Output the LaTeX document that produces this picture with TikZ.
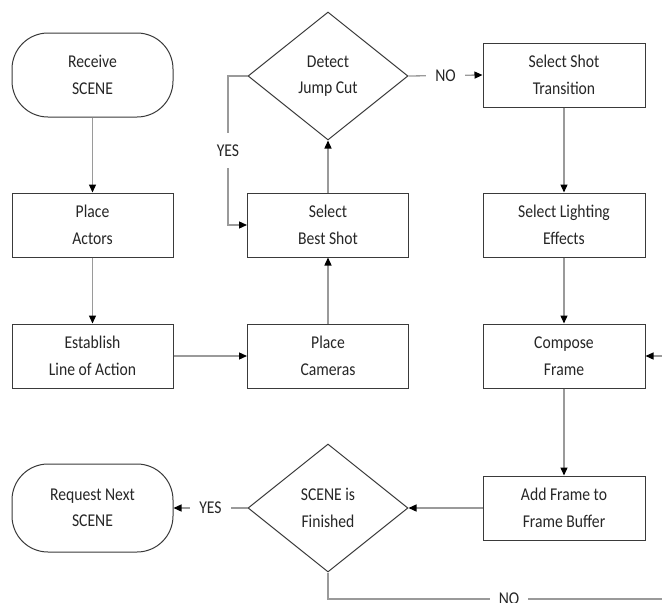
\documentclass[tikz,border=0pt]{standalone}
\usepackage{fontspec}
\setmainfont{Carlito}[FakeStretch=0.87]
\usetikzlibrary{arrows.meta,shapes.geometric}
\definecolor{boxc}{HTML}{3A3A3A}
\definecolor{linec}{HTML}{9A9A9A}
\definecolor{txt}{HTML}{262626}
\begin{document}
\begin{tikzpicture}[x=1pt,y=-1pt,
  txtfont/.style={font=\fontsize{18}{26.5}\selectfont},
  box/.style={draw=boxc, line width=1pt, minimum width=161pt, minimum height=64pt, inner sep=0pt, align=center, text=txt, txtfont},
  term/.style={box, rounded corners=36pt, minimum height=84pt},
  dec/.style={draw=boxc, line width=1pt, diamond, minimum width=160pt, minimum height=128pt, inner sep=0pt, align=center, text=txt, txtfont},
  conn/.style={draw=linec, line width=1.3pt, -{Triangle[length=8pt,width=7pt,color=black]}},
  lab/.style={fill=white, inner xsep=9pt, inner ysep=3pt, text=txt, font=\fontsize{18}{20}\selectfont}
]
\useasboundingbox (0,0) rectangle (662,603);
\clip (0,0) rectangle (662,603);
\fill[white] (0,0) rectangle (662,603);

\node[term] (recv) at (92.5,75) {Receive\\SCENE};
\node[box] (actors) at (92.5,225) {Place\\Actors};
\node[box] (estab) at (92.5,356) {Establish\\Line of Action};
\node[box] (cams) at (328,356) {Place\\Cameras};
\node[box] (best) at (328,225) {Select\\Best Shot};
\node[dec] (jump) at (328,76) {Detect\\Jump Cut};
\node[box, minimum width=162pt] (trans) at (564,75) {Select Shot\\Transition};
\node[box, minimum width=162pt] (light) at (564,225) {Select Lighting\\Effects};
\node[box, minimum width=162pt] (compose) at (564,356) {Compose\\Frame};
\node[box, minimum width=162pt] (addf) at (564,508) {Add Frame to\\Frame Buffer};
\node[dec] (fin) at (328,508) {SCENE is\\Finished};
\node[term, minimum height=88pt] (req) at (92.5,508) {Request Next\\SCENE};

\coordinate (loopl) at (228,76);
\coordinate (botl) at (328,599);
\coordinate (botr) at (690,599);
\coordinate (topr) at (690,356);

\draw[conn] (recv.south) -- (actors.north);
\draw[conn] (actors.south) -- (estab.north);
\draw[conn] (estab.east) -- (cams.west);
\draw[conn] (cams.north) -- (best.south);
\draw[conn] (best.north) -- (jump.south);
\draw[conn] (jump.west) -- (loopl) |- node[lab, pos=0.25, inner xsep=2pt, inner ysep=12pt] (yes1) {YES} (best.west);
\draw[conn] (jump.east) -- node[lab] (no1) {NO} (trans.west);
\draw[conn] (trans.south) -- (light.north);
\draw[conn] (light.south) -- (compose.north);
\draw[conn] (compose.south) -- (addf.north);
\draw[conn] (addf.west) -- (fin.east);
\draw[conn] (fin.west) -- node[lab] (yes2) {YES} (req.east);
\draw[conn] (fin.south) -- (botl) -- node[lab] (no2) {NO} (botr) -- (topr) -- (compose.east);
\end{tikzpicture}
\end{document}
